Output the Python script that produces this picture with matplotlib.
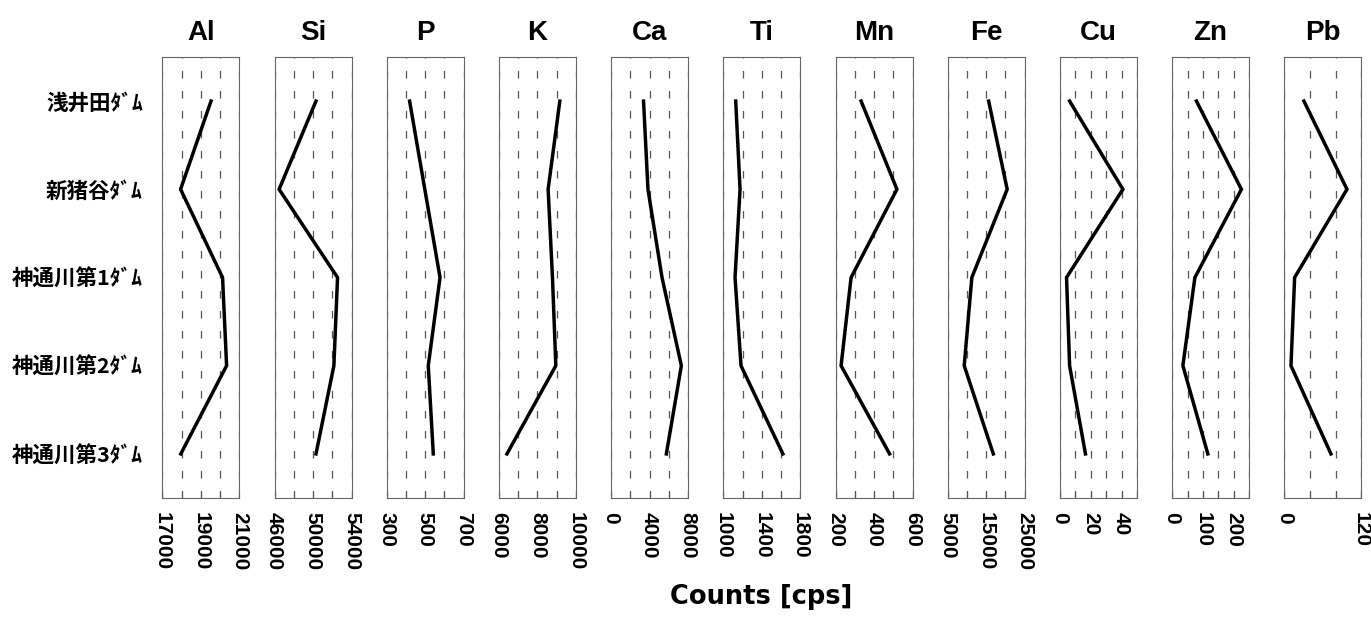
import matplotlib
matplotlib.use("Agg")
import numpy as np
import matplotlib.pyplot as plt
from matplotlib.ticker import FixedLocator

# dams (top to bottom)
dams = ["浅井田ﾀﾞﾑ", "新猪谷ﾀﾞﾑ", "神通川第1ﾀﾞﾑ", "神通川第2ﾀﾞﾑ", "神通川第3ﾀﾞﾑ"]
elements = ["Al", "Si", "P", "K", "Ca", "Ti", "Mn", "Fe", "Cu", "Zn", "Pb"]

# counts [cps] per element, in dam order
al = [19530, 17950, 20130, 20340, 17960]
si = [50310, 46480, 52550, 52170, 50310]
p = [419, 498, 577, 516, 542]
k = [9165, 8557, 8783, 8957, 6417]
ca = [3370, 3830, 5290, 7300, 5740]
ti = [1129, 1174, 1122, 1184, 1619]
mn = [333, 519, 281, 229, 481]
fe = [15640, 20450, 11270, 9290, 16850]
cu = [6.3, 40.9, 4.3, 6.3, 16.6]
zn = [79, 225, 74, 35, 116]
pb = [30.6, 97.7, 16.1, 10.4, 72.7]
values = [al, si, p, k, ca, ti, mn, fe, cu, zn, pb]

# axis ranges: (min, max, label step, grid step)
x_min = [17000, 46000, 300, 6000, 0, 1000, 200, 5000, 0, 0, 0]
x_max = [21000, 54000, 700, 10000, 8000, 1800, 600, 25000, 50, 250, 120]
label_step = [2000, 4000, 200, 2000, 4000, 400, 200, 10000, 20, 100, 120]
grid_step = [1000, 2000, 100, 1000, 2000, 200, 100, 5000, 10, 50, 40]

W, H = 1371, 617
fig = plt.figure(figsize=(W / 100, H / 100), dpi=100)

ypos = list(range(len(dams)))
for i, el in enumerate(elements):
    left = 162.3 + i * 112.2
    ax = fig.add_axes([left / W, (H - 498) / H, 77 / W, 441 / H])
    ax.plot(values[i], ypos, color="black", lw=2.5, solid_joinstyle="miter")
    ax.set_xlim(x_min[i], x_max[i])
    ax.set_ylim(4.5, -0.5)
    eps = grid_step[i] * 1e-3
    ax.xaxis.set_major_locator(FixedLocator(np.arange(x_min[i], x_max[i] + eps, label_step[i])))
    ax.xaxis.set_minor_locator(FixedLocator(np.arange(x_min[i], x_max[i] + eps, grid_step[i])))
    ax.grid(which="both", axis="x", color="#555555", lw=0.9, ls=(0, (6, 10)))
    ax.tick_params(axis="x", which="both", direction="in", length=5,
                   width=0.8, color="#555555", pad=10)
    for lab in ax.get_xticklabels():
        lab.set_rotation(-90)
        lab.set_fontsize(15)
        lab.set_fontweight("bold")
        lab.set_family("Liberation Sans")
        lab.set_va("top")
        lab.set_ha("center")
    for s in ax.spines.values():
        s.set_color("#666666")
        s.set_linewidth(0.8)
    ax.set_title(el, fontsize=20, family="Liberation Sans", fontweight="bold", pad=12)
    if i == 0:
        ax.set_yticks(ypos)
        ax.set_yticklabels(dams, fontsize=15.5, fontweight="bold",
                           family=["Noto Sans CJK JP", "DejaVu Sans"])
        ax.tick_params(axis="y", length=0, pad=14)
    else:
        ax.set_yticks([])

fig.text(761 / W, 1 - 597 / H, "Counts [cps]", fontsize=18.5,
         fontweight="bold", ha="center", va="center")

fig.savefig("out.png", dpi=100)
